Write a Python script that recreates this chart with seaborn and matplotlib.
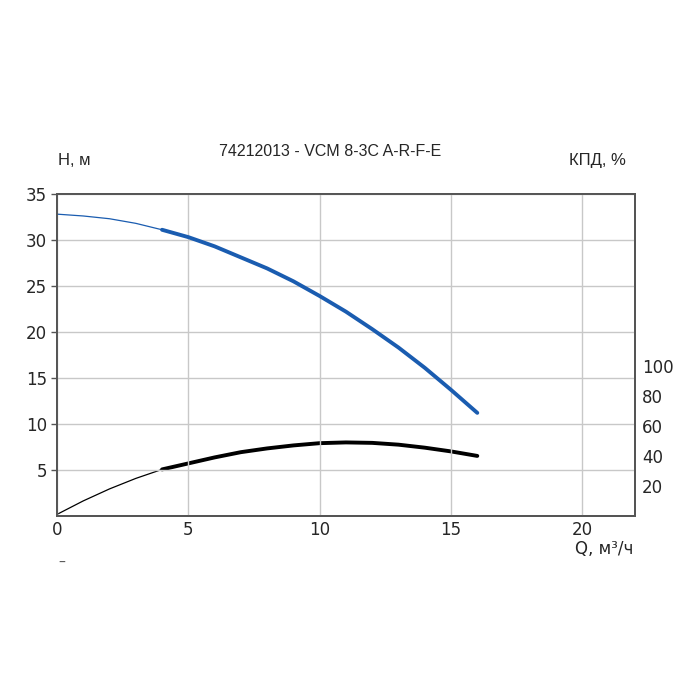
import matplotlib
matplotlib.use("Agg")
from matplotlib import pyplot as plt
import seaborn as sns
import pandas as pd

# flow, m3/h
q = [0, 1, 2, 3, 4, 5, 6, 7, 8, 9, 10, 11, 12, 13, 14, 15, 16]
# head, m
head = [32.8, 32.6, 32.3, 31.8, 31.1, 30.3, 29.3, 28.1, 26.9, 25.5, 23.9,
        22.2, 20.3, 18.3, 16.1, 13.7, 11.2]
# efficiency, %
eff = [1, 10, 18, 25, 31, 35, 39, 42.5, 45, 47, 48.5, 49, 48.7, 47.5, 45.5,
       43, 40]
work_start = 4  # thick (working) part starts here

df = pd.DataFrame({"q": q, "head": head, "eff": eff})
thin = df[df.q <= work_start]
thick = df[df.q >= work_start]

sns.set_style("white")
fig = plt.figure(figsize=(7, 7), dpi=100)
ax = fig.add_axes([0.0814, 0.263, 0.8256, 0.46])
ax2 = ax.twinx()

blue = "#1a5cb0"
sns.lineplot(data=thin, x="q", y="head", ax=ax, color=blue, lw=0.9)
sns.lineplot(data=thick, x="q", y="head", ax=ax, color=blue, lw=2.8)
sns.lineplot(data=thin, x="q", y="eff", ax=ax2, color="black", lw=0.9)
sns.lineplot(data=thick, x="q", y="eff", ax=ax2, color="black", lw=2.8)

ax.set_xlim(0, 22)
ax.set_ylim(0, 35)
ax2.set_ylim(0, 35 / 0.163)
ax.set_xticks([0, 5, 10, 15, 20])
ax.set_yticks([5, 10, 15, 20, 25, 30, 35])
ax2.set_yticks([20, 40, 60, 80, 100])
ax.grid(True, color="#c8c8c8", lw=1)
ax.set_xlabel("")
ax.set_ylabel("")
ax2.set_ylabel("")

for a in (ax, ax2):
    for s in a.spines.values():
        s.set_color("#555555")
        s.set_linewidth(1.4)
ax.tick_params(axis="y", length=4, width=1, color="#555555", labelsize=12,
               pad=3, direction="out", left=True)
ax.tick_params(axis="x", length=0, labelsize=12, pad=4)
ax2.tick_params(axis="y", length=0, labelsize=12, pad=5)
ax.set_zorder(ax2.get_zorder() + 1)
ax.patch.set_visible(False)

tf = ["Liberation Sans", "DejaVu Sans"]
fig.text(0.471, 0.783, "74212013 - VCM 8-3C A-R-F-E", ha="center",
         va="center", fontsize=11.5, family=tf)
fig.text(0.083, 0.771, "H, м", va="center", fontsize=12, family=tf)
fig.text(0.894, 0.771, "КПД, %", ha="right", va="center", fontsize=12,
         family=tf)
fig.text(0.905, 0.216, "Q, м³/ч", ha="right", va="center", fontsize=12)
fig.text(0.083, 0.196, "–", va="center", fontsize=10, color="#555555")

fig.savefig("out.png", dpi=100, facecolor="white")
